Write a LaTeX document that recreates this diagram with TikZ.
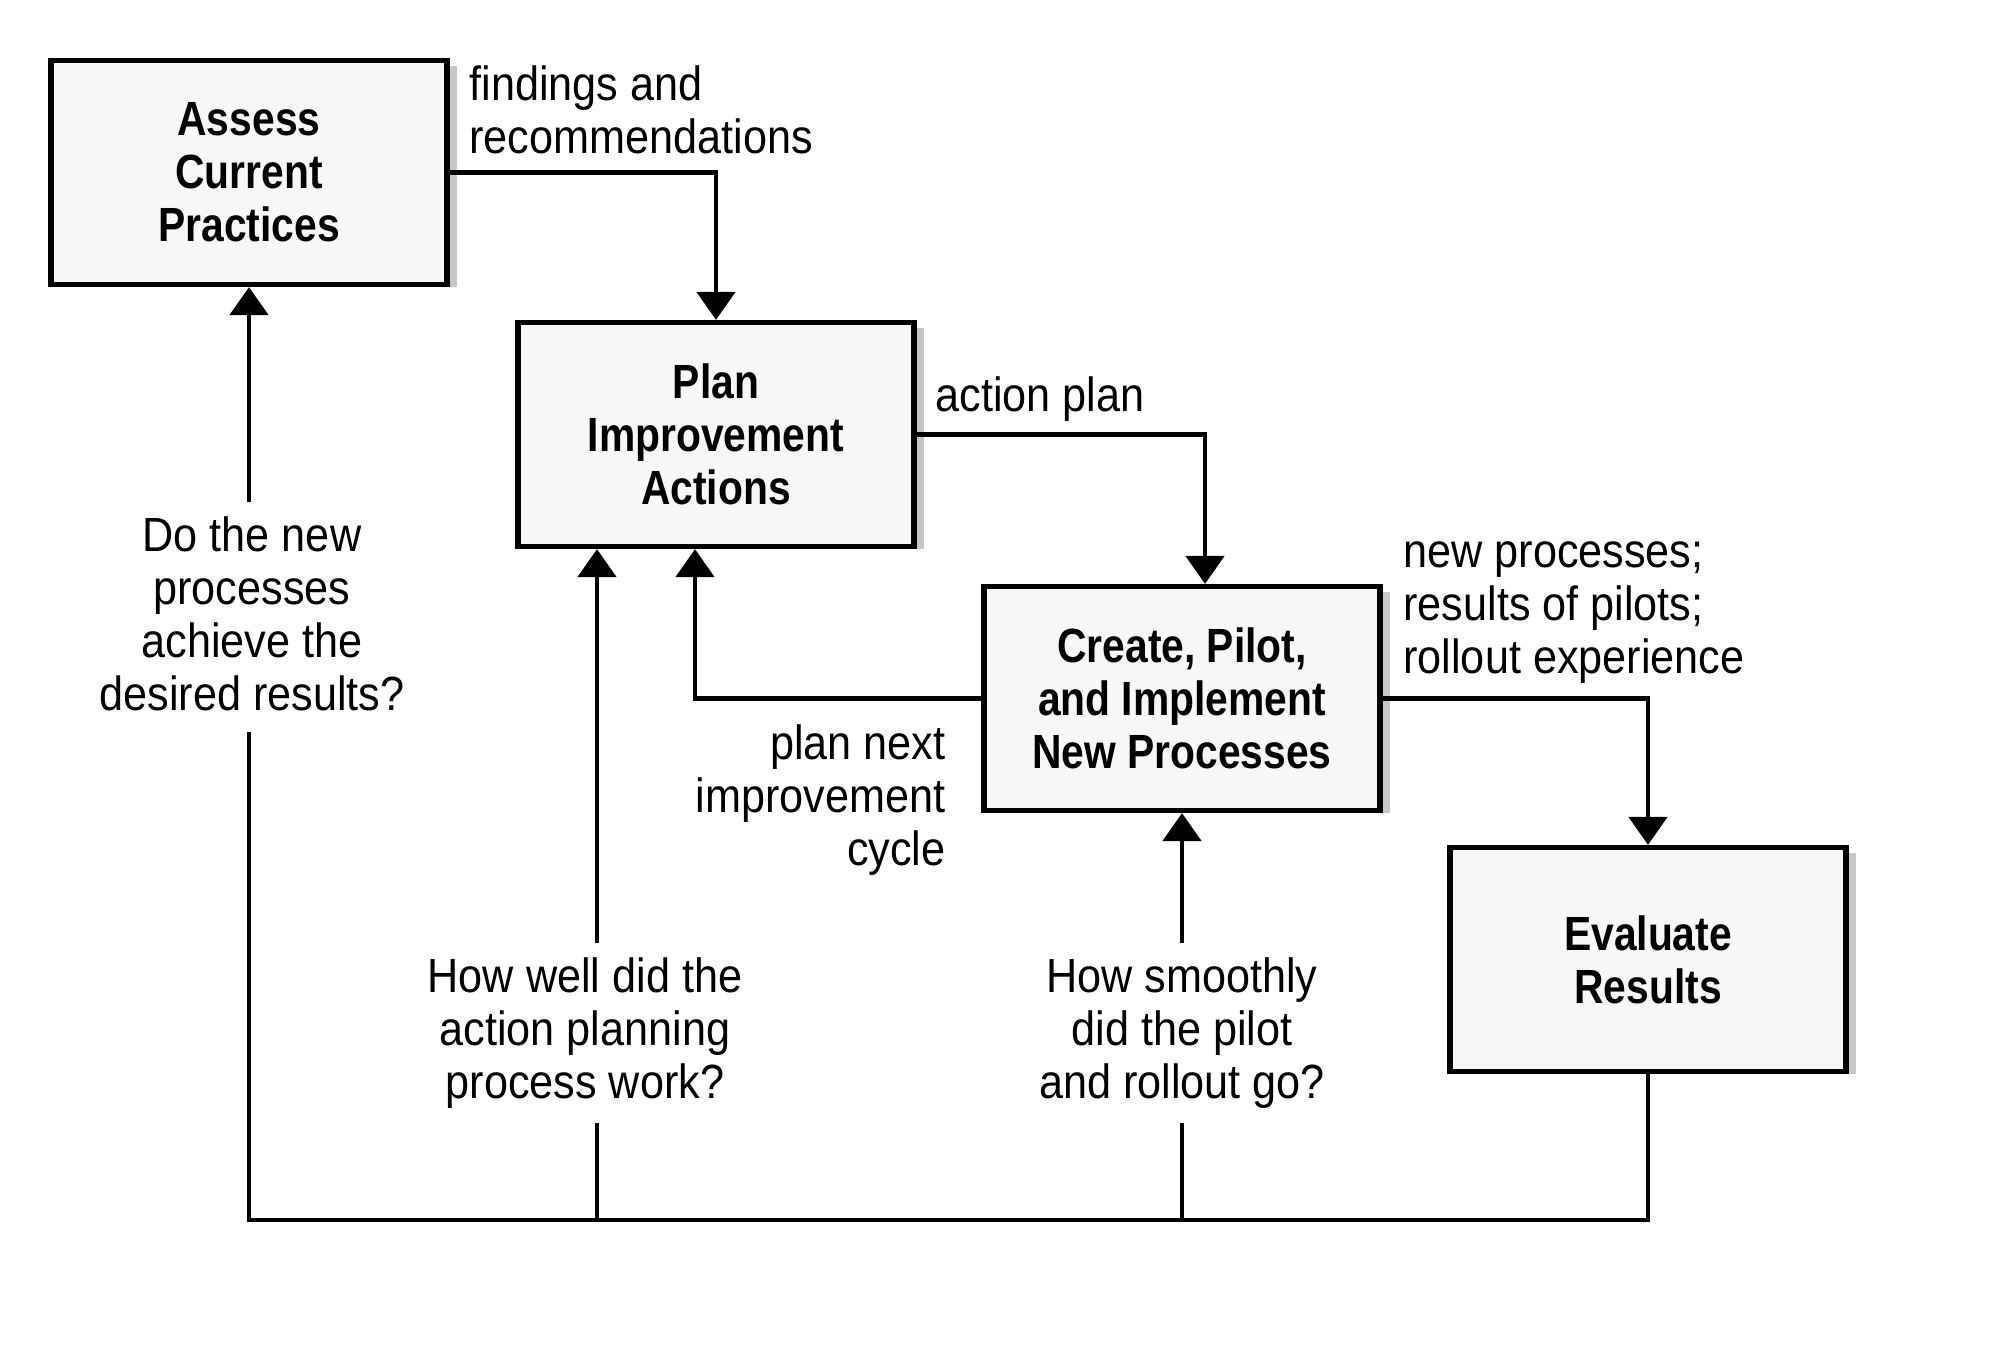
\documentclass[tikz,border=0pt]{standalone}
\usepackage{fontspec}
\setmainfont[FakeStretch=0.9]{Liberation Sans}
\newfontfamily\boxfont[FakeStretch=0.85]{Liberation Sans}
\usetikzlibrary{arrows.meta,calc,backgrounds}
\begin{document}
\begin{tikzpicture}[x=0.5pt,y=-0.5pt,
  procbox/.style={draw, line width=2.6pt, fill=black!3, minimum width=198pt, minimum height=112pt,
    align=center, inner sep=0pt, font=\boxfont\bfseries\fontsize{24}{26.5}\selectfont},
  lbl/.style={font=\fontsize{24}{26.5}\selectfont, inner sep=0pt},
  qlbl/.style={font=\fontsize{24}{26.5}\selectfont, align=center, inner xsep=0pt, inner ysep=7pt},
  conn/.style={line width=2.4pt},
  arr/.style={conn, -{Triangle[width=19pt,length=14pt]}}]
\useasboundingbox (0,0) rectangle (2004,1358);

% process boxes
\node[procbox] (a) at (249,172.5) {Assess\\Current\\Practices};
\node[procbox] (b) at (716,434.5) {Plan\\Improvement\\Actions};
\node[procbox] (c) at (1182,698.5) {Create, Pilot,\\and Implement\\New Processes};
\node[procbox] (d) at (1648,959.5) {Evaluate\\Results};

% light shadow strips
\begin{scope}[on background layer]
  \foreach \n in {a,b,c,d}{
    \fill[black!22] ($(\n.south west)+(8,0)$) rectangle ($(\n.north east)+(7,8)$);
  }
\end{scope}

% labels
\node[lbl, anchor=west, align=left] (l1) at (469,110) {findings and\\recommendations};
\node[lbl, anchor=west] (l2) at (935,399) {action plan};
\node[lbl, anchor=west, align=left] (l3) at (1403,613) {new processes;\\results of pilots;\\rollout experience};
\node[lbl, anchor=east, align=right] (l4) at (946,800) {plan next\\improvement\\cycle};

% questions
\node[qlbl] (q1) at (252,614) {Do the new\\processes\\achieve the\\desired results?};
\node[qlbl] (q2) at (585,1033) {How well did the\\action planning\\process work?};
\node[qlbl] (q3) at (1182,1033) {How smoothly\\did the pilot\\and rollout go?};

% forward connectors
\draw[arr] (a.east) -| (b.north);
\draw[arr] (b.east) -| ([xshift=11.5pt]c.north);
\draw[arr] (c.east) -| (d.north);
\draw[arr] (c.west) -| ([xshift=-10.5pt]b.south);

% feedback loop
\coordinate (v1) at (249,1220);
\coordinate (v2) at (597,1220);
\coordinate (v3) at (1182,1220);
\draw[conn] (d.south) |- (v1) -- ([yshift=-3pt]v1 |- q1.south);
\draw[arr] (v1 |- q1.north) -- (a.south);
\draw[conn] (v2) -- (v2 |- q2.south);
\draw[arr] (v2 |- q2.north) -- (v2 |- b.south);
\draw[conn] (v3) -- (q3.south);
\draw[arr] (q3.north) -- (c.south);
\end{tikzpicture}
\end{document}
